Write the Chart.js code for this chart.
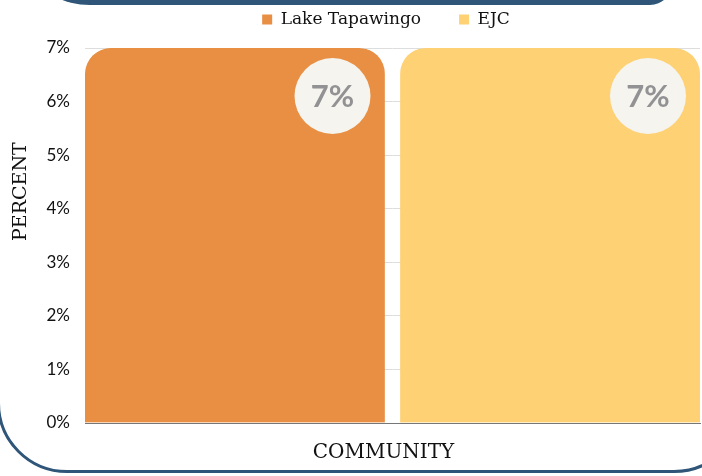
<!DOCTYPE html>
<html>
<head>
<meta charset="utf-8">
<script src="https://cdn.jsdelivr.net/npm/chart.js@4.4.1/dist/chart.umd.min.js"></script>
<style>
  html, body { margin: 0; padding: 0; background: #ffffff; overflow: hidden; }
  #wrap { position: relative; width: 702px; height: 476px; overflow: hidden; }
  #frame { position: absolute; left: -3px; top: -100px; width: 747px; height: 573px; box-sizing: border-box;
           border: 3.5px solid #2f5678; border-radius: 70px; }
  #header { position: absolute; left: 40px; top: -40px; width: 632px; height: 45px; background: #2f5678;
            border-bottom-left-radius: 50px 30px; border-bottom-right-radius: 22px 22px; }
  #c { position: absolute; left: 0; top: 0; }
</style>
</head>
<body>
<div id="wrap">
  <div id="frame"></div>
  <div id="header"></div>
  <canvas id="c" width="702" height="476"></canvas>
</div>
<script>
const categories = ["COMMUNITY"];
const seriesNames = ["Lake Tapawingo", "EJC"];
const lakeTapawingo = [7];
const ejc = [7];
const valueLabels = ["7%", "7%"];
const yTicks = [0, 1, 2, 3, 4, 5, 6, 7];

const ORANGE = "#E88F43";
const YELLOW = "#FDD174";
const GAP = 8;
const LEGEND_PAD = 38;

const layoutPlugin = {
  id: "legendTweak",
  beforeLayout(chart) {
    const lg = chart.legend;
    if (lg && !lg._wrapped) {
      const f = lg.fit.bind(lg);
      lg.fit = function () { f(); this.height = 48; };
      lg._wrapped = true;
    }
  },
  afterLayout(chart) {
    const lg = chart.legend;
    if (lg) {
      lg.top -= 27;
      lg.left += 36; lg.right += 36;
    }
  }
};

const labelPlugin = {
  id: "circleLabels",
  afterDatasetsDraw(chart) {
    const ctx = chart.ctx;
    chart.data.datasets.forEach((ds, di) => {
      const meta = chart.getDatasetMeta(di);
      meta.data.forEach((el) => {
        const half = el.width / 2;
        const visRight = di === 0 ? el.x + half - GAP : el.x + half;
        const cx = visRight - 52;
        const cy = el.y + 48;
        ctx.save();
        ctx.beginPath();
        ctx.arc(cx, cy, 38, 0, Math.PI * 2);
        ctx.fillStyle = "#F5F4EE";
        ctx.fill();
        ctx.fillStyle = "#929294";
        ctx.font = "bold 31px Lato";
        ctx.textAlign = "center";
        ctx.textBaseline = "middle";
        ctx.fillText(valueLabels[di], cx, cy + 1);
        ctx.restore();
      });
    });
  },
  afterDraw(chart) {
    const ctx = chart.ctx;
    const a = chart.chartArea;
    ctx.save();
    ctx.fillStyle = "#111";
    ctx.textAlign = "center";
    ctx.textBaseline = "middle";
    ctx.font = "20px 'DejaVu Serif'";
    ctx.fillText(categories[0], (a.left + a.right) / 2 - 9, a.bottom + 30);
    ctx.translate(21, a.top + (a.bottom - a.top) * 0.383);
    ctx.rotate(-Math.PI / 2);
    ctx.font = "19px 'DejaVu Serif'";
    ctx.fillText("PERCENT", 0, 0);
    ctx.restore();
  }
};

new Chart(document.getElementById("c"), {
  type: "bar",
  data: {
    labels: categories,
    datasets: [
      { label: seriesNames[0], data: lakeTapawingo, backgroundColor: ORANGE,
        borderColor: "rgba(0,0,0,0)", borderWidth: { left: 0, right: GAP, top: 0, bottom: 0 },
        borderSkipped: "bottom", borderRadius: { topLeft: 26, topRight: 26 + GAP, bottomLeft: 0, bottomRight: 0 },
        barPercentage: 1, categoryPercentage: 1 },
      { label: seriesNames[1], data: ejc, backgroundColor: YELLOW,
        borderColor: "rgba(0,0,0,0)", borderWidth: { left: GAP, right: 0, top: 0, bottom: 0 },
        borderSkipped: "bottom", borderRadius: { topLeft: 26 + GAP, topRight: 26, bottomLeft: 0, bottomRight: 0 },
        barPercentage: 1, categoryPercentage: 1 }
    ]
  },
  options: {
    responsive: false,
    animation: false,
    layout: { padding: { top: 0, right: 2, left: 0, bottom: 0 } },
    plugins: {
      legend: {
        position: "top",
        labels: {
          boxWidth: 10, boxHeight: 10, padding: LEGEND_PAD,
          color: "#111",
          font: { family: "'DejaVu Serif'", size: 17 },
          generateLabels(chart) {
            return chart.data.datasets.map((d, i) => ({
              text: d.label, fillStyle: d.backgroundColor, strokeStyle: d.backgroundColor,
              lineWidth: 0, hidden: false, datasetIndex: i, fontColor: "#111"
            }));
          }
        }
      },
      tooltip: { enabled: false }
    },
    scales: {
      x: {
        grid: { display: false, drawTicks: false },
        border: { display: true, color: "#777" },
        ticks: { display: false },
        title: { display: false },
        afterFit(scale) { scale.height = 53; }
      },
      y: {
        min: 0, max: 7,
        afterBuildTicks(scale) { scale.ticks = yTicks.map(v => ({ value: v })); },
        grid: { color: "#DDDDDD", drawTicks: false },
        border: { display: false },
        ticks: { color: "#111", padding: 15, font: { family: "Lato", size: 17 },
                 callback: (v) => v + "%" },
        afterFit(scale) { scale.width = 85; }
      }
    }
  },
  plugins: [layoutPlugin, labelPlugin]
});
</script>
</body>
</html>
